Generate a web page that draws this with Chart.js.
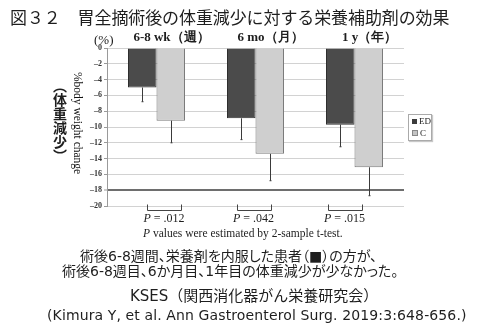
<!DOCTYPE html>
<html>
<head>
<meta charset="utf-8">
<script src="https://cdn.jsdelivr.net/npm/chart.js@4"></script>
<style>
body { margin: 0; background: #fff; }
#wrap { position: relative; width: 500px; height: 328px; overflow: hidden; }
#wrap canvas { position: absolute; left: 0; top: 0; }
.t { position: absolute; white-space: nowrap; color: #1e1e1e; line-height: 1; }
.jp { font-family: 'Noto Sans CJK JP', sans-serif; }
.mix { font-family: 'DejaVu Sans', 'Noto Sans CJK JP', sans-serif; font-feature-settings: 'palt'; }
.serif { font-family: 'Liberation Serif', serif; }
.vert { writing-mode: vertical-rl; }
#legend { position: absolute; left: 408px; top: 114px; width: 22px; height: 25px; border: 1px solid #aaa;
  box-shadow: 1px 1px 1px #c8c8c8; font: 9px 'Liberation Serif', serif; color: #222; background: #fff; }
#legend div { height: 12px; line-height: 12px; padding-left: 3px; }
#legend span { display: inline-block; width: 5px; height: 5px; margin-right: 2px; vertical-align: 0; }
</style>
</head>
<body>
<div id="wrap">
  <canvas id="weightChart" width="500" height="328"></canvas>
  <div class="t jp" style="left:10px; top:8px; font-size:17px; letter-spacing:-0.1px;">図３２　胃全摘術後の体重減少に対する栄養補助剤の効果</div>
  <div class="t serif" style="left:94px; top:33px; font-size:13px;">(%)</div>
  <div class="t jp vert" style="left:53px; top:79px; font-size:14px; font-weight:bold;">（体重減少）</div>
  <div class="t serif vert" style="left:71px; top:72px; font-size:11.5px; color:#111;">%body weight change</div>
  <div id="legend">
    <div><span style="background:#3c3c3c;"></span>ED</div>
    <div><span style="background:#c4c4c4; border:1px solid #888; width:4px; height:4px;"></span>C</div>
  </div>
  <div class="t serif" style="left:143px; top:228px; font-size:11.5px;"><i>P</i> values were estimated by 2-sample t-test.</div>
  <div class="t mix" style="left:80px; top:249px; font-size:14px;">術後6-8週間、栄養剤を内服した患者（■）の方が、</div>
  <div class="t mix" style="left:62px; top:264px; font-size:14px;">術後6-8週目、6か月目、1年目の体重減少が少なかった。</div>
  <div class="t mix" style="left:130px; top:289px; font-size:15px; font-feature-settings:normal;">KSES（関西消化器がん栄養研究会）</div>
  <div class="t mix" style="left:47px; top:308px; font-size:14px; letter-spacing:0.12px;">(Kimura Y, et al. Ann Gastroenterol Surg. 2019:3:648-656.)</div>
</div>

<script>
// Data (% body weight change)
const groups = ['6-8 wk（週）', '6 mo（月）', '1 y（年）'];
const edMeans = [-5.0, -8.9, -9.7];
const edSD = [1.8, 2.7, 2.8];
const cMeans = [-9.2, -13.4, -15.1];
const cSD = [2.8, 3.4, 3.6];
const pValues = ['.012', '.042', '.015'];
const yMin = -20;
const yMax = 0;
const yStep = 2;

// Striped grey fill for the C bars, built from the x scale
const stripeGreys = [120, 160, 196, 176, 212, 190, 226, 204, 232, 214, 228, 200, 220, 188, 208, 176, 196, 160, 176, 130];
function cFill(context) {
    const chart = context.chart;
    if (!chart.chartArea || context.dataIndex === undefined) return '#cfcfcf';
    const bar = chart.getDatasetMeta(context.datasetIndex).data[context.dataIndex];
    if (!bar || !bar.width) return '#cfcfcf';
    const left = bar.x - bar.width / 2;
    const g = chart.ctx.createLinearGradient(left, 0, left + bar.width, 0);
    const n = stripeGreys.length;
    stripeGreys.forEach((v, k) => {
        const c = 'rgb(' + v + ',' + v + ',' + v + ')';
        g.addColorStop(k / n, c);
        g.addColorStop((k + 1) / n, c);
    });
    return g;
}

// Error bars (mean - SD)
const errorBars = {
    id: 'errorBars',
    afterDatasetsDraw(chart) {
        const ctx = chart.ctx;
        const y = chart.scales.y;
        chart.data.datasets.forEach((ds, di) => {
            const meta = chart.getDatasetMeta(di);
            meta.data.forEach((bar, i) => {
                const end = y.getPixelForValue(ds.data[i] - ds.sd[i]);
                const bx = Math.round(bar.x) + 0.5;
                ctx.save();
                ctx.strokeStyle = '#3a3a3a';
                ctx.lineWidth = 1;
                ctx.beginPath();
                ctx.moveTo(bx, bar.y);
                ctx.lineTo(bx, end);
                ctx.moveTo(bx - 1, end);
                ctx.lineTo(bx + 1, end);
                ctx.stroke();
                ctx.restore();
            });
        });
    }
};

// P value brackets under each group
const pShift = [7.5, -2, -10];
const pBrackets = {
    id: 'pBrackets',
    afterDraw(chart) {
        const ctx = chart.ctx;
        const x = chart.scales.x;
        const bottom = chart.chartArea.bottom;
        ctx.save();
        pValues.forEach((p, i) => {
            const cx = x.getPixelForValue(i) + pShift[i];
            const l = Math.round(cx - 17) + 0.5;
            const r = Math.round(cx + 17) + 0.5;
            const yb = Math.round(bottom + 4) + 0.5;
            ctx.strokeStyle = '#444';
            ctx.lineWidth = 1;
            ctx.beginPath();
            ctx.moveTo(l, yb - 6);
            ctx.lineTo(l, yb);
            ctx.lineTo(r, yb);
            ctx.lineTo(r, yb - 6);
            ctx.stroke();

            ctx.fillStyle = '#1e1e1e';
            ctx.textBaseline = 'alphabetic';
            ctx.font = 'italic 12px "Liberation Serif"';
            const w1 = ctx.measureText('P').width;
            ctx.font = '12px "Liberation Serif"';
            const rest = ' = ' + p;
            const w2 = ctx.measureText(rest).width;
            const tx = cx - (w1 + w2) / 2;
            ctx.font = 'italic 12px "Liberation Serif"';
            ctx.fillText('P', tx, bottom + 16);
            ctx.font = '12px "Liberation Serif"';
            ctx.fillText(rest, tx + w1, bottom + 16);
        });
        ctx.restore();
    }
};

function loadChart() {
    const canvas = document.getElementById('weightChart');
    new Chart(canvas, {
        type: 'bar',
        data: {
            labels: groups,
            datasets: [{
                label: 'ED',
                data: edMeans,
                sd: edSD,
                backgroundColor: '#4b4b4b',
                borderColor: '#2e2e2e',
                borderWidth: 1
            }, {
                label: 'C',
                data: cMeans,
                sd: cSD,
                backgroundColor: cFill,
                borderColor: '#7a7a7a',
                borderWidth: 1
            }]
        },
        options: {
            responsive: false,
            animation: false,
            layout: {
                padding: { left: 85, top: 28, right: 96, bottom: 122 }
            },
            datasets: {
                bar: {
                    categoryPercentage: 0.576,
                    barPercentage: 1
                }
            },
            plugins: {
                legend: { display: false },
                tooltip: { enabled: false }
            },
            scales: {
                x: {
                    position: 'top',
                    grid: { display: false, drawTicks: false },
                    border: { display: false },
                    ticks: {
                        font: { family: 'Liberation Serif', size: 13, weight: 'bold' },
                        color: '#1e1e1e',
                        labelOffset: 15,
                        padding: 3,
                        maxRotation: 0
                    },
                    afterFit(scale) { scale.height = 20; }
                },
                y: {
                    min: yMin,
                    max: yMax,
                    grid: {
                        color: c => (c.tick && c.tick.value === -18) ? '#6e6e6e' : '#d2d2d2',
                        lineWidth: c => (c.tick && c.tick.value === -18) ? 2 : 1,
                        tickWidth: 1,
                        tickColor: '#9a9a9a',
                        tickLength: 3
                    },
                    border: { color: '#9a9a9a' },
                    ticks: {
                        stepSize: yStep,
                        font: { family: 'Liberation Serif', size: 8, weight: 'bold' },
                        color: '#333',
                        padding: 2,
                        callback: v => v === 0 ? '0' : '\u2013' + Math.abs(v)
                    },
                    afterFit(scale) { scale.width = 22; }
                }
            }
        },
        plugins: [errorBars, pBrackets]
    });
}

loadChart();
</script>
</body>
</html>
